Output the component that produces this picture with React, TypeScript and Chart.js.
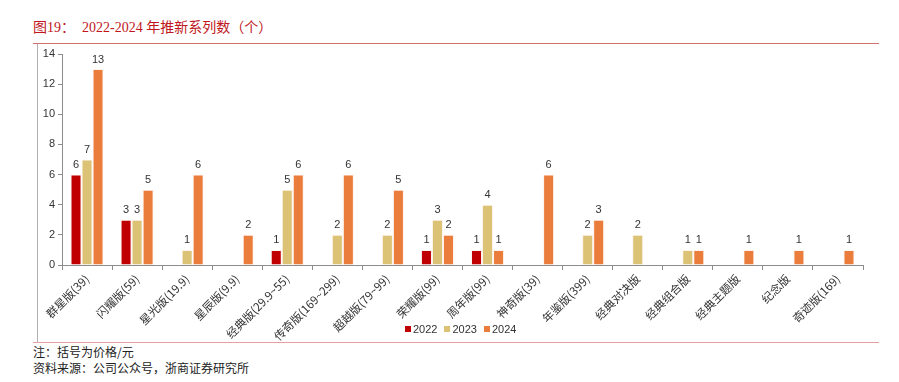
import React, { useEffect, useRef } from "react";
import { Chart, registerables } from "chart.js";

Chart.register(...registerables);

const categories = [
  "群星版(39)",
  "闪耀版(59)",
  "星光版(19.9)",
  "星辰版(9.9)",
  "经典版(29.9~55)",
  "传奇版(169~299)",
  "超越版(79~99)",
  "荣耀版(99)",
  "周年版(99)",
  "神奇版(39)",
  "年鉴版(399)",
  "经典对决版",
  "经典组合版",
  "经典主题版",
  "纪念版",
  "奇迹版(169)",
];

const series2022 = [6, 3, null, null, 1, null, null, 1, 1, null, null, null, null, null, null, null];
const series2023 = [7, 3, 1, null, 5, 2, 2, 3, 4, null, 2, 2, 1, null, null, null];
const series2024 = [13, 5, 6, 2, 6, 6, 5, 2, 1, 6, 3, null, 1, 1, 1, 1];

const seriesNames = ["2022", "2023", "2024"];
const seriesColors = ["#C00000", "#DCC274", "#EB7D3C"];
const yTicks = [0, 2, 4, 6, 8, 10, 12, 14];

const titleText = "图19：  2022-2024 年推新系列数（个）";
const noteText = "注：括号为价格/元";
const sourceText = "资料来源：公司公众号，浙商证券研究所";

const valueLabels = {
  id: "valueLabels",
  afterDatasetsDraw(chart: any) {
    const ctx = chart.ctx;
    ctx.save();
    ctx.font = "11px 'Liberation Sans', Arial, sans-serif";
    ctx.fillStyle = "#333333";
    ctx.textAlign = "center";
    ctx.textBaseline = "bottom";
    chart.data.datasets.forEach((ds: any, i: number) => {
      const meta = chart.getDatasetMeta(i);
      meta.data.forEach((bar: any, j: number) => {
        const v = ds.data[j];
        if (v === null || v === undefined) return;
        ctx.fillText(String(v), bar.x, bar.y - 4);
      });
    });
    ctx.restore();
  },
};

export default function App() {
  const ref = useRef<HTMLCanvasElement>(null);

  useEffect(() => {
    if (!ref.current) return;
    const data = [series2022, series2023, series2024];
    const chart = new Chart(ref.current, {
      type: "bar",
      data: {
        labels: categories,
        datasets: seriesNames.map((name, i) => ({
          label: name,
          data: data[i],
          backgroundColor: seriesColors[i],
          borderColor: "rgba(255,235,225,0.6)",
          borderWidth: 1,
          categoryPercentage: 0.66,
          barPercentage: 1,
        })),
      },
      options: {
        animation: false,
        responsive: false,
        maintainAspectRatio: false,
        layout: { padding: { top: 10, right: 4, left: 0, bottom: 0 } },
        plugins: {
          legend: { display: false },
          tooltip: { enabled: false },
        },
        scales: {
          x: {
            afterFit(scale: any) {
              scale.height = 77;
            },
            border: { color: "#8c8c8c", width: 1 },
            grid: {
              display: true,
              drawOnChartArea: false,
              drawTicks: true,
              tickLength: 5,
              offset: true,
              color: "#8c8c8c",
            },
            ticks: {
              minRotation: 45,
              maxRotation: 45,
              autoSkip: false,
              padding: 2,
              color: "#333333",
              font: { family: "'Noto Sans CJK SC', sans-serif", size: 11.5 },
            },
          },
          y: {
            min: 0,
            max: 14,
            afterFit(scale: any) {
              scale.width = 25;
            },
            afterBuildTicks(scale: any) {
              scale.ticks = yTicks.map((v) => ({ value: v }));
            },
            border: { color: "#8c8c8c", width: 1 },
            grid: {
              display: true,
              drawOnChartArea: false,
              drawTicks: true,
              tickLength: 4,
              color: "#8c8c8c",
            },
            ticks: {
              color: "#333333",
              padding: 3,
              font: { family: "'Liberation Sans', Arial, sans-serif", size: 11 },
            },
          },
        },
      },
      plugins: [valueLabels],
    });
    return () => chart.destroy();
  }, []);

  const serifFont = "'Liberation Serif', 'Noto Sans CJK SC', serif";
  const cjk = "'Noto Sans CJK SC', sans-serif";

  return (
    <div
      style={{
        position: "fixed",
        left: 0,
        top: 0,
        width: 899,
        height: 382,
        background: "#ffffff",
        overflow: "hidden",
      }}
    >
      <div
        style={{
          position: "absolute",
          left: 33,
          top: 19,
          fontFamily: serifFont,
          fontSize: 14,
          lineHeight: "18px",
          color: "#C0161C",
          whiteSpace: "pre",
        }}
      >
        {titleText}
      </div>
      <div style={{ position: "absolute", left: 33, top: 43, width: 846, height: 1, background: "#D07070" }} />
      <div style={{ position: "absolute", left: 37, top: 44, width: 1, height: 298, background: "#B0B0B0" }} />
      <div style={{ position: "absolute", left: 33, top: 342, width: 846, height: 1, background: "#E4A0A0" }} />
      <canvas
        ref={ref}
        width={830}
        height={298}
        style={{ position: "absolute", left: 37, top: 44, width: 830, height: 298 }}
      />
      <div
        style={{
          position: "absolute",
          left: 405,
          top: 322,
          display: "flex",
          alignItems: "center",
          fontFamily: "'Liberation Sans', Arial, sans-serif",
          fontSize: 11,
          color: "#333333",
          lineHeight: "14px",
        }}
      >
        {seriesNames.map((n, i) => (
          <span key={n} style={{ display: "flex", alignItems: "center", marginRight: 7 }}>
            <span style={{ display: "inline-block", width: 6, height: 6, background: seriesColors[i], marginRight: 2 }} />
            {n}
          </span>
        ))}
      </div>
      <div
        style={{
          position: "absolute",
          left: 33,
          top: 344,
          fontFamily: cjk,
          fontSize: 12,
          lineHeight: "16px",
          color: "#222222",
        }}
      >
        {noteText}
      </div>
      <div
        style={{
          position: "absolute",
          left: 33,
          top: 360,
          fontFamily: cjk,
          fontSize: 12,
          lineHeight: "16px",
          color: "#222222",
        }}
      >
        {sourceText}
      </div>
    </div>
  );
}
